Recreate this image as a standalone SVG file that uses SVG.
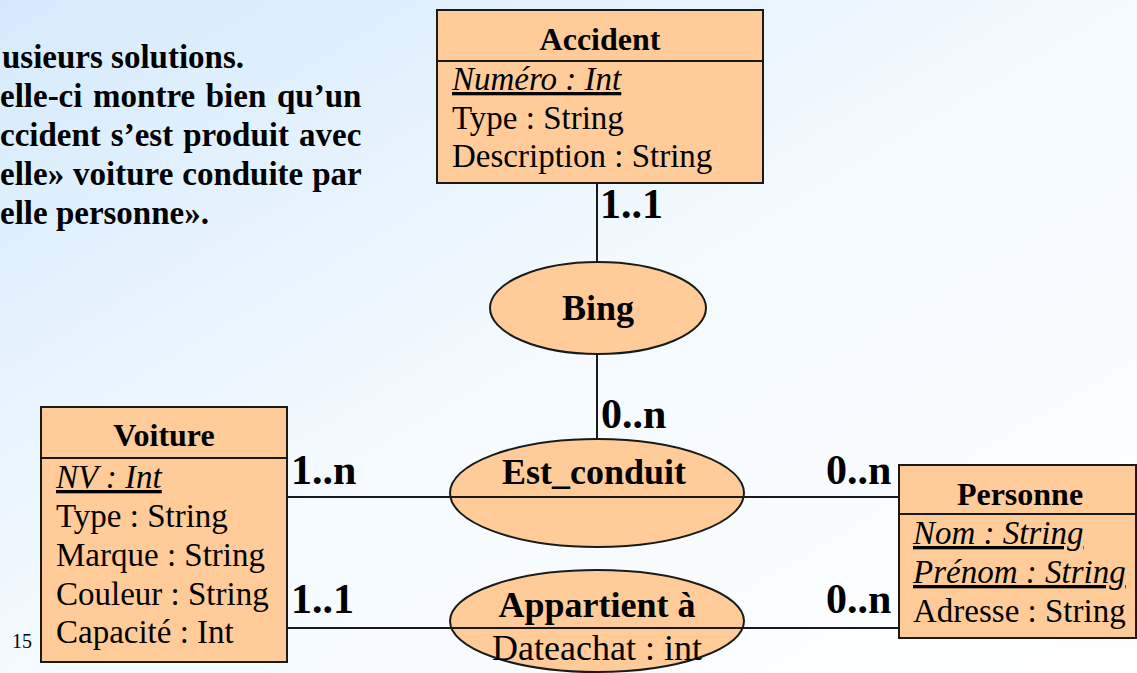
<svg xmlns="http://www.w3.org/2000/svg" width="1137" height="673" viewBox="0 0 1137 673">
<defs>
<linearGradient id="bg" x1="0" y1="0" x2="1" y2="1">
<stop offset="0" stop-color="#d4eafc"/>
<stop offset="0.5" stop-color="#f4faff"/>
<stop offset="1" stop-color="#ffffff"/>
</linearGradient>
<style>
.box{fill:#ffcc99;stroke:#1a1a1a;stroke-width:2}
.sep{stroke:#1a1a1a;stroke-width:2}
.t{font-family:"Liberation Serif","Times New Roman",serif;fill:#000}
.title{font-size:32px;font-weight:bold;text-anchor:middle}
.attr{font-size:33px}
.key{font-style:italic;text-decoration:underline}
.card{font-size:42px;font-weight:bold}
.rel{font-size:36px;font-weight:bold;text-anchor:middle}
.conn{stroke:#1a1a1a;stroke-width:2;fill:none}
.intro{font-size:33px;font-weight:bold}
</style>
</defs>
<rect x="0" y="0" width="1137" height="673" fill="url(#bg)"/>

<g id="intro" class="t intro">
<text x="2" y="68">usieurs solutions.</text>
<text x="0" y="107" word-spacing="2.4">elle-ci montre bien qu’un</text>
<text x="0" y="146" word-spacing="1.8">ccident s’est produit avec</text>
<text x="0" y="185" word-spacing="0.7">elle» voiture conduite par</text>
<text x="0" y="224">elle personne».</text>
</g>

<g id="connectors">
<line class="conn" x1="597" y1="183" x2="597" y2="262"/>
<line class="conn" x1="597" y1="354" x2="597" y2="439"/>
<line class="conn" x1="287" y1="497" x2="899" y2="497"/>
<line class="conn" x1="287" y1="628" x2="899" y2="628"/>
</g>

<g id="accident">
<rect class="box" x="437" y="10" width="326" height="173"/>
<line class="sep" x1="437" y1="61" x2="763" y2="61"/>
<text class="t title" x="600" y="50">Accident</text>
<text class="t attr key" x="452" y="90">Numéro : Int</text>
<text class="t attr" x="452" y="129">Type : String</text>
<text class="t attr" x="452" y="167">Description : String</text>
</g>

<g id="bing">
<ellipse class="box" cx="598" cy="308" rx="108" ry="46"/>
<text class="t rel" x="598" y="320">Bing</text>
</g>

<g id="est_conduit">
<ellipse class="box" cx="597" cy="493" rx="147" ry="54"/>
<line class="sep" x1="450" y1="497" x2="744" y2="497"/>
<text class="t rel" x="594" y="484">Est_conduit</text>
</g>

<g id="appartient">
<ellipse class="box" cx="597" cy="621" rx="147" ry="51"/>
<line class="sep" x1="450" y1="628" x2="744" y2="628"/>
<text class="t rel" x="597" y="617">Appartient à</text>
<text class="t" x="597" y="660" font-size="36" text-anchor="middle">Dateachat : int</text>
</g>

<g id="voiture">
<rect class="box" x="41" y="407" width="246" height="255"/>
<line class="sep" x1="41" y1="458" x2="287" y2="458"/>
<text class="t title" x="164" y="446">Voiture</text>
<text class="t attr key" x="56" y="488">NV : Int</text>
<text class="t attr" x="56" y="527">Type : String</text>
<text class="t attr" x="56" y="566">Marque : String</text>
<text class="t attr" x="56" y="605">Couleur : String</text>
<text class="t attr" x="56" y="643">Capacité : Int</text>
</g>

<g id="personne">
<rect class="box" x="899" y="465" width="237" height="173"/>
<line class="sep" x1="899" y1="514" x2="1136" y2="514"/>
<text class="t title" x="1020" y="505">Personne</text>
<text class="t attr key" x="913" y="544">Nom : String</text>
<text class="t attr key" x="913" y="583">Prénom : String</text>
<text class="t attr" x="913" y="622">Adresse : String</text>
</g>

<g id="cardinalities" class="t card">
<text x="600" y="218">1..1</text>
<text x="601" y="428">0..n</text>
<text x="291" y="484">1..n</text>
<text x="826" y="484">0..n</text>
<text x="291" y="613">1..1</text>
<text x="826" y="613">0..n</text>
</g>

<text class="t" x="12" y="648" font-size="20">15</text>
</svg>
